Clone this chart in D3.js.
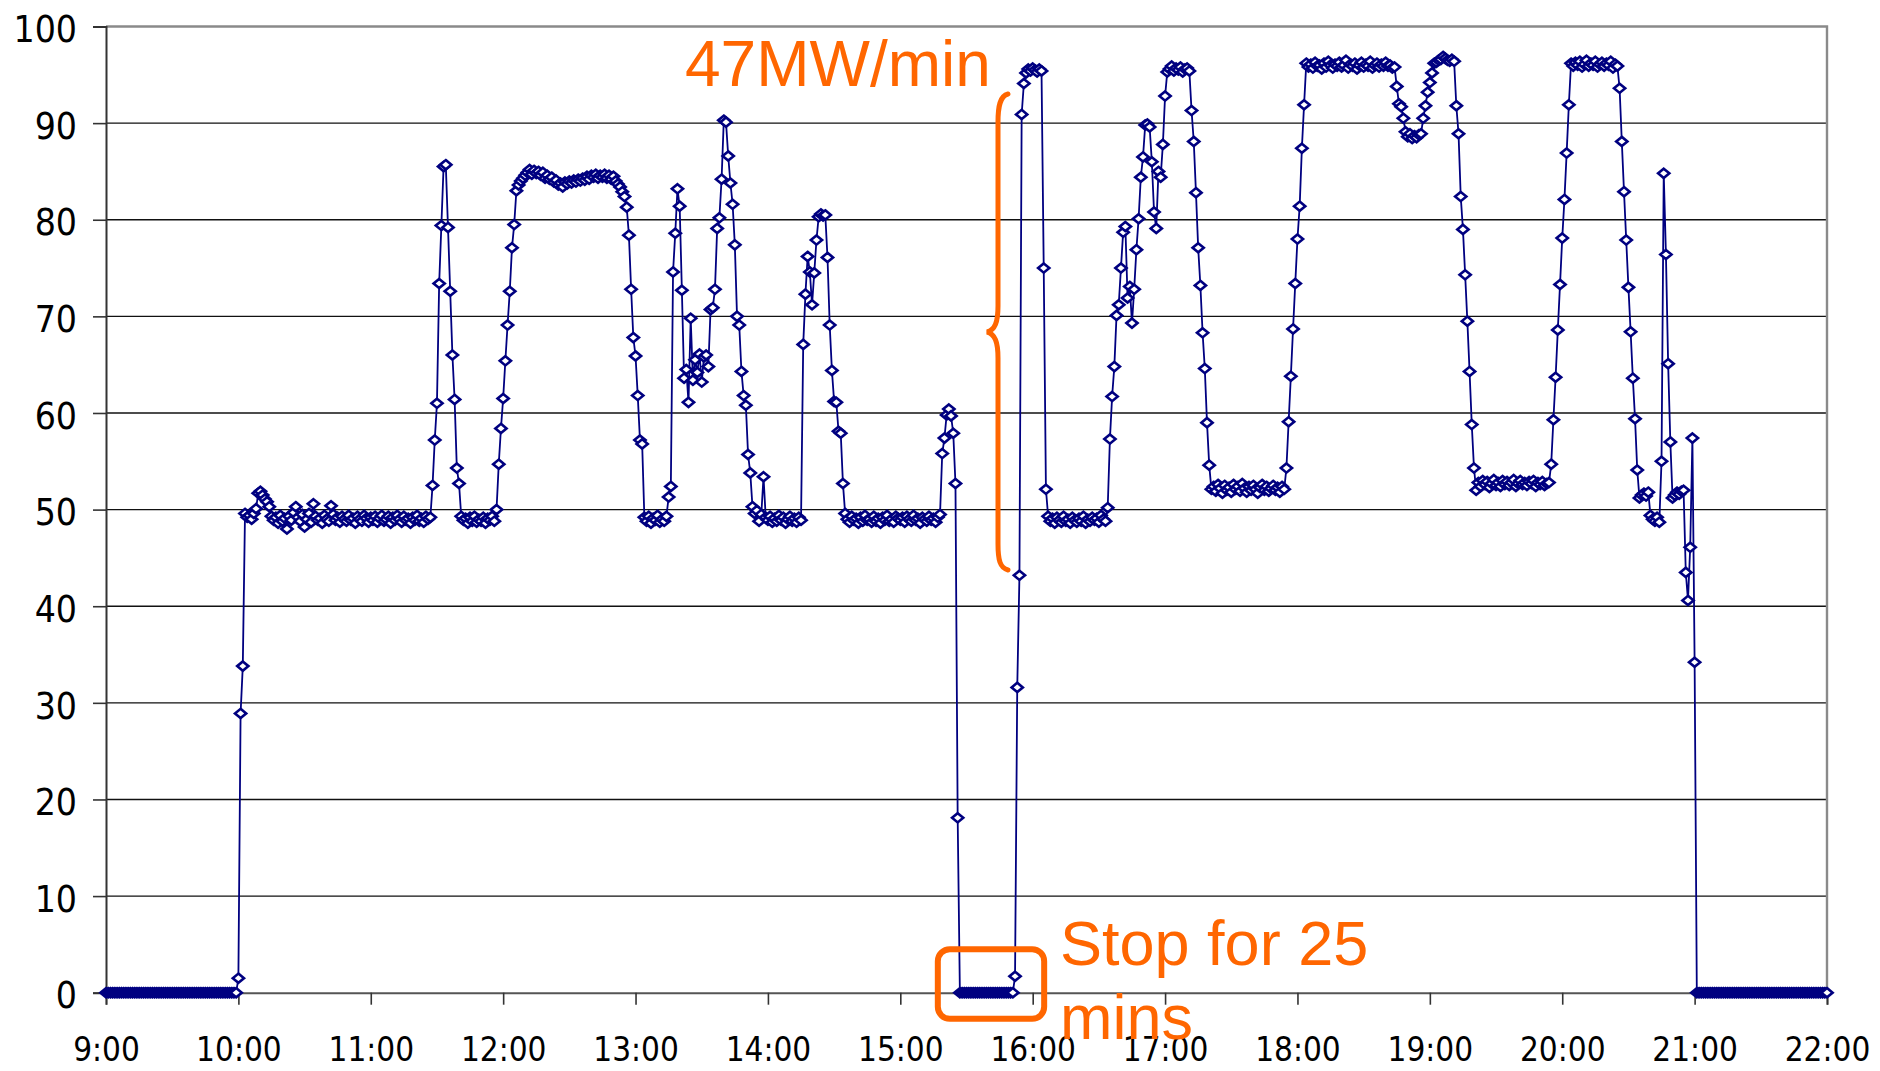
<!DOCTYPE html>
<html>
<head>
<meta charset="utf-8">
<script src="https://cdn.jsdelivr.net/npm/d3@7/dist/d3.min.js"></script>
<style>
  body { margin: 0; background: #fff; }
  svg { display: block; }
</style>
</head>
<body>
<div id="container"></div>
<script>
/* CONSTANTS AND GLOBALS */
const width = 1880,
  height = 1071,
  margin = { top: 26.5, right: 53, bottom: 78.3, left: 106 };

// output (MW), one reading per minute, one array per hour
const h09 = [0,0,0,0,0,0,0,0,0,0, 0,0,0,0,0,0,0,0,0,0, 0,0,0,0,0,0,0,0,0,0,
  0,0,0,0,0,0,0,0,0,0, 0,0,0,0,0,0,0,0,0,0, 0,0,0,0,0,0,0,0,0,0];
const h10 = [1.5,28.9,33.8,49.6,49.2,49.4,49.0,49.6,50.1,51.7, 51.9,51.5,51.1,50.8,50.3,49.3,48.9,49.2,48.6,49.4,
  48.8,49.1,48.0,49.3,48.9,49.7,50.3,49.2,48.8,49.5, 48.2,49.0,49.6,48.7,50.6,49.3,48.9,49.1,48.6,49.4,
  49.0,48.8,50.4,49.5,48.9,49.2,48.7,49.3,49.0,48.8, 49.4,48.9,49.1,48.6,49.3,49.0,48.8,49.4,49.1,48.7];
const h11 = [49.2,48.9,49.3,48.7,49.1,49.4,48.8,49.0,49.3,48.6, 49.2,48.9,49.4,49.0,48.7,49.3,48.9,49.1,48.6,49.2,
  48.9,49.4,48.8,49.1,48.7,49.3,49.0,49.2,52.5,57.2, 61.0,73.4,79.4,85.5,85.7,79.2,72.6,66.0,61.4,54.3,
  52.7,49.3,48.9,49.1,48.6,49.2,48.8,49.3,48.7,49.0, 48.8,49.2,48.6,49.1,48.9,49.3,48.8,50.0,54.7,58.4];
const h12 = [61.5,65.4,69.1,72.6,77.1,79.5,83.0,83.6,84.0,84.3, 84.6,84.9,85.2,84.7,85.1,84.8,85.0,84.6,84.9,84.3,
  84.6,84.2,84.4,83.9,84.1,83.6,83.8,83.4,83.9,83.7, 84.0,83.8,84.1,83.9,84.2,84.0,84.3,84.1,84.5,84.2,
  84.6,84.4,84.7,84.3,84.6,84.4,84.7,84.3,84.6,84.2, 84.5,84.0,83.7,83.4,82.9,82.4,81.3,78.4,72.8,67.8];
const h13 = [65.9,61.8,57.2,56.8,49.2,48.8,49.3,48.6,49.1,48.9, 49.4,48.7,49.0,48.8,49.3,51.3,52.4,74.6,78.6,83.2,
  81.4,72.7,63.6,64.5,61.1,69.8,63.4,65.5,64.2,66.1, 63.2,65.8,66.0,64.8,70.7,70.9,72.8,79.1,80.2,84.2,
  90.3,90.1,86.6,83.8,81.6,77.4,70.0,69.1,64.3,61.8, 60.8,55.7,53.8,50.3,49.6,49.9,48.8,49.5,53.4,49.2];
const h14 = [48.9,49.3,48.7,49.1,48.8,49.4,48.9,49.2,48.6,49.0, 49.3,48.8,49.1,48.7,49.2,48.9,67.1,72.3,76.2,74.6,
  71.2,74.5,77.9,80.3,80.6,80.4,80.5,76.1,69.1,64.4, 61.2,61.1,58.1,57.9,52.7,49.6,49.0,48.7,49.3,48.9,
  49.1,48.6,49.2,48.8,49.4,48.9,49.0,48.7,49.3,48.8, 49.1,48.6,49.2,48.9,49.4,48.8,49.0,48.7,49.3,49.1];
const h15 = [48.9,49.2,48.7,49.3,49.0,48.8,49.4,48.9,49.1,48.6, 49.2,49.0,48.8,49.3,48.9,49.1,48.7,49.2,49.5,55.8,
  57.4,59.8,60.4,59.7,57.9,52.7,18.1,0,0,0, 0,0,0,0,0,0,0,0,0,0,
  0,0,0,0,0,0,0,0,0,0, 0,0,1.7,31.6,43.2,90.9,94.1,95.2,95.6,95.4];
const h16 = [95.7,95.5,95.3,95.6,95.4,75.0,52.1,49.3,48.8,49.1, 48.6,49.2,48.9,48.7,49.3,48.8,49.0,48.6,49.2,48.9,
  48.7,49.1,48.8,49.3,48.6,49.0,48.8,49.2,48.9,49.1, 48.7,49.4,49.0,48.8,50.2,57.3,61.7,64.8,70.1,71.2,
  75.0,78.7,79.3,71.9,73.1,69.3,72.8,76.9,80.1,84.4, 86.5,89.8,89.9,89.6,86.0,80.8,79.1,85.0,84.4,87.8];
const h17 = [92.8,95.3,95.6,95.9,95.4,95.7,95.5,95.8,95.3,95.6, 95.7,95.4,91.3,88.1,82.8,77.1,73.2,68.3,64.6,59.0,
  54.6,52.1,52.4,51.9,52.6,52.2,51.7,52.5,52.0,52.3, 51.8,52.6,52.1,52.4,51.9,52.7,52.2,51.8,52.4,52.0,
  52.5,52.1,51.7,52.3,52.6,52.0,52.4,51.9,52.2,52.5, 52.0,52.3,51.8,52.4,52.1,54.3,59.1,63.8,68.7,73.4];
const h18 = [78.0,81.4,87.4,91.9,96.2,95.8,96.1,95.7,96.3,95.9, 96.0,95.6,96.2,95.8,96.4,96.0,95.7,96.1,95.9,96.3,
  95.8,96.0,96.5,95.7,96.1,95.9,96.2,95.6,96.0,96.3, 95.8,96.1,95.9,96.4,95.7,96.0,96.2,95.8,96.1,95.9,
  96.3,95.9,96.0,95.7,95.8,93.8,92.0,91.7,90.5,89.1, 88.6,88.9,88.4,88.7,88.5,88.8,88.9,90.5,91.8,93.2];
const h19 = [94.2,95.2,96.2,96.3,96.5,96.6,96.9,96.7,96.5,96.4, 96.6,96.4,91.8,88.9,82.4,79.0,74.3,69.5,64.3,58.8,
  54.3,52.0,52.8,52.4,53.0,52.6,52.9,52.3,52.7,53.1, 52.5,52.8,52.4,53.0,52.6,52.9,52.5,52.8,53.1,52.4,
  52.7,53.0,52.6,52.8,52.5,52.9,52.7,53.0,52.4,52.8, 52.6,52.9,52.5,52.7,52.8,54.7,59.3,63.7,68.6,73.3];
const h20 = [78.1,82.1,86.9,91.9,96.2,95.9,96.3,96.0,96.4,95.8, 96.1,96.5,95.9,96.2,96.0,96.4,95.8,96.1,96.3,95.9,
  96.2,96.0,96.4,95.7,96.1,95.9,93.6,88.1,82.9,77.9, 73.0,68.4,63.6,59.4,54.1,51.2,51.5,51.7,51.4,51.8,
  49.4,49.0,48.8,49.2,48.7,55.0,84.8,76.4,65.1,57.0, 51.2,51.5,51.8,51.6,51.9,52.0,43.5,40.6,46.1,57.4];
const h21 = [34.2,0,0,0,0,0,0,0,0,0, 0,0,0,0,0,0,0,0,0,0, 0,0,0,0,0,0,0,0,0,0,
  0,0,0,0,0,0,0,0,0,0, 0,0,0,0,0,0,0,0,0,0, 0,0,0,0,0,0,0,0,0,0];
const at22 = 0;

const hourLabels = ["9:00","10:00","11:00","12:00","13:00","14:00","15:00",
  "16:00","17:00","18:00","19:00","20:00","21:00","22:00"];
const yTicks = [0,10,20,30,40,50,60,70,80,90,100];

// annotations
const rampLabel = "47MW/min";
const stopLabel = ["Stop for 25", "mins"];

const navy = "#000080", orange = "#ff6600";

// BUILD SERIES (minutes after 9:00)
const hours = [h09,h10,h11,h12,h13,h14,h15,h16,h17,h18,h19,h20,h21];
const data = hours.flatMap((arr, h) => arr.map((v, i) => ({ t: h * 60 + i, v })));
data.push({ t: hours.length * 60, v: at22 });

// APPEND SVG
const svg = d3.select("#container")
  .append("svg")
  .attr("width", width)
  .attr("height", height)
  .style("background", "#fff");

// SCALES
const x = d3.scaleLinear()
  .domain([0, 780])
  .range([margin.left, width - margin.right]);

const y = d3.scaleLinear()
  .domain([0, 100])
  .range([height - margin.bottom, margin.top]);

// gridlines
svg.append("g")
  .selectAll("line")
  .data(yTicks.filter(d => d > 0 && d < 100))
  .join("line")
  .attr("x1", x(0)).attr("x2", x(780))
  .attr("y1", d => y(d)).attr("y2", d => y(d))
  .attr("stroke", "#111")
  .attr("stroke-width", 1.4);

// plot border top / right (grey like excel)
svg.append("path")
  .attr("d", `M${x(0)},${y(100)}H${x(780)}V${y(0)}`)
  .attr("fill", "none")
  .attr("stroke", "#8a8a8a")
  .attr("stroke-width", 2.4);

// AXES
const yAxis = d3.axisLeft(y)
  .tickValues(yTicks)
  .tickSize(13)
  .tickPadding(16)
  .tickFormat(d3.format("d"));

const yG = svg.append("g")
  .attr("transform", `translate(${x(0)},0)`)
  .call(yAxis);
yG.select(".domain").attr("stroke", "#333").attr("stroke-width", 2);
yG.selectAll(".tick line").attr("stroke", "#333").attr("stroke-width", 1.6);
yG.selectAll("text")
  .attr("dy", "0.41em")
  .attr("fill", "#000")
  .style("font-family", "'DejaVu Sans Condensed', 'DejaVu Sans', sans-serif")
  .style("font-stretch", "condensed")
  .style("font-size", "37px");

const xAxis = d3.axisBottom(x)
  .tickValues(d3.range(0, 781, 60))
  .tickSize(12)
  .tickPadding(33)
  .tickFormat((d, i) => hourLabels[i]);

const xG = svg.append("g")
  .attr("transform", `translate(0,${y(0)})`)
  .call(xAxis);
xG.select(".domain").attr("stroke", "#555").attr("stroke-width", 2);
xG.selectAll(".tick line").attr("stroke", "#333").attr("stroke-width", 1.6);
xG.selectAll("text")
  .attr("dy", "0.71em")
  .attr("fill", "#000")
  .style("font-family", "'DejaVu Sans Condensed', 'DejaVu Sans', sans-serif")
  .style("font-stretch", "condensed")
  .style("font-size", "33px");

// LINE
const lineGen = d3.line()
  .x(d => x(d.t))
  .y(d => y(d.v));

svg.append("path")
  .datum(data)
  .attr("d", lineGen)
  .attr("fill", "none")
  .attr("stroke", navy)
  .attr("stroke-width", 1.8);

// diamond markers, a bit wider than tall
const diamond = "M0,-4.6L5.6,0L0,4.6L-5.6,0Z";
svg.append("g")
  .selectAll("path.pt")
  .data(data)
  .join("path")
  .attr("class", "pt")
  .attr("d", diamond)
  .attr("transform", d => `translate(${x(d.t)},${y(d.v)})`)
  .attr("fill", "#fff")
  .attr("stroke", navy)
  .attr("stroke-width", 2.6);

// ANNOTATIONS
const ann = svg.append("g")
  .style("font-family", "'Liberation Sans', Arial, sans-serif")
  .attr("fill", orange);

ann.append("text")
  .attr("x", 685)
  .attr("y", 86)
  .style("font-size", "64px")
  .text(rampLabel);

// curly brace beside the ramp
ann.append("path")
  .attr("d", "M1008,94 C1000,96 998,106 998,122 L998,306 C998,322 995,330 987,332 C995,334 998,342 998,358 L998,544 C998,560 1000,568 1008,570")
  .attr("fill", "none")
  .attr("stroke", orange)
  .attr("stroke-width", 5)
  .attr("stroke-linecap", "round");

// box round the stop
ann.append("rect")
  .attr("x", x(377))
  .attr("y", y(4.5))
  .attr("width", x(425.2) - x(377))
  .attr("height", y(-2.7) - y(4.5))
  .attr("rx", 12)
  .attr("fill", "none")
  .attr("stroke", orange)
  .attr("stroke-width", 6);

ann.selectAll("text.stop")
  .data(stopLabel)
  .join("text")
  .attr("class", "stop")
  .attr("x", 1060)
  .attr("y", (d, i) => 965 + i * 74)
  .style("font-size", "63px")
  .text(d => d);
</script>
</body>
</html>
